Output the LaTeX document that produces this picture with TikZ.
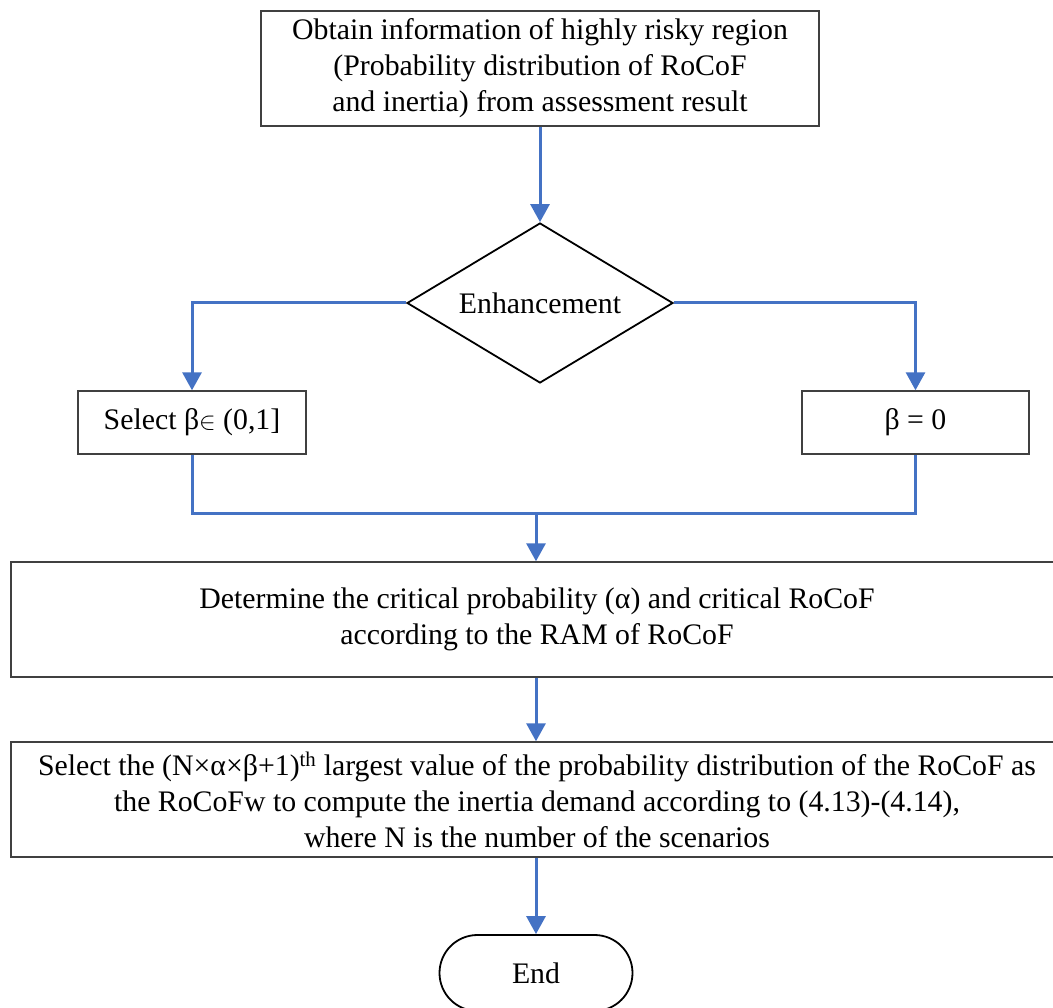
\documentclass[tikz,border=0pt]{standalone}
\usepackage{fontspec}
\setmainfont{Liberation Serif}
\usetikzlibrary{shapes.geometric,shapes.misc,arrows.meta}
\definecolor{flowblue}{HTML}{4472C4}
\definecolor{boxgray}{HTML}{404040}
\newcommand{\bigin}{{\fontsize{34}{36}\selectfont$\in$}}
\begin{document}
\begin{tikzpicture}[x=1pt,y=-1pt,
  font=\fontsize{29.8}{36}\selectfont,
  procbox/.style={draw=boxgray,line width=1.4pt,rectangle,align=center,inner sep=0pt},
  decision/.style={draw=black,line width=1.8pt,diamond,shape aspect=1.66,inner sep=0pt,
    minimum width=266,minimum height=160},
  terminal/.style={draw=black,line width=1.8pt,rounded rectangle,inner sep=0pt,
    minimum width=193,minimum height=76},
  flow/.style={draw=flowblue,line width=3pt},
  flowarrow/.style={flow,-{Triangle[width=19pt,length=18pt]}}]
\useasboundingbox (0,0) rectangle (1053,1008);
\clip (0,0) rectangle (1053,1008);

% process steps
\node[procbox,minimum width=558,minimum height=115] (obtain) at (540,68.5)
  {Obtain information of highly risky region\\(Probability distribution of RoCoF\\and inertia) from assessment result};
\node[decision] (enh) at (540,303) {Enhancement};
\node[procbox,minimum width=228,minimum height=63] (selbeta) at (192,422.5)
  {Select β\bigin\ (0,1]};
\node[procbox,minimum width=227,minimum height=63] (zerobeta) at (915.5,422.5)
  {β = 0};
\node[procbox,minimum width=1052,minimum height=115] (determine) at (537,619.5)
  {Determine the critical probability (α) and critical RoCoF\\according to the RAM of RoCoF};
\node[procbox,minimum width=1052,minimum height=115] (selvalue) at (537,799.5)
  {Select the (N×α×β+1)\textsuperscript{th} largest value of the probability distribution of the RoCoF as\\
   the RoCoFw to compute the inertia demand according to (4.13)-(4.14),\\
   where N is the number of the scenarios};
\node[terminal] (finish) at (536,973) {End};

% connectors
\coordinate (merge) at (536,513);
\draw[flowarrow] (obtain.south) -- (enh.north);
\draw[flowarrow] (enh.west) -| (selbeta.north);
\draw[flowarrow] (enh.east) -| (zerobeta.north);
\draw[flow] (selbeta.south) |- (merge) -| (zerobeta.south);
\draw[flowarrow] (merge) -- (merge |- determine.north);
\draw[flowarrow] (determine.south -| merge) -- (selvalue.north -| merge);
\draw[flowarrow] (selvalue.south -| merge) -- (finish.north);
\end{tikzpicture}
\end{document}
